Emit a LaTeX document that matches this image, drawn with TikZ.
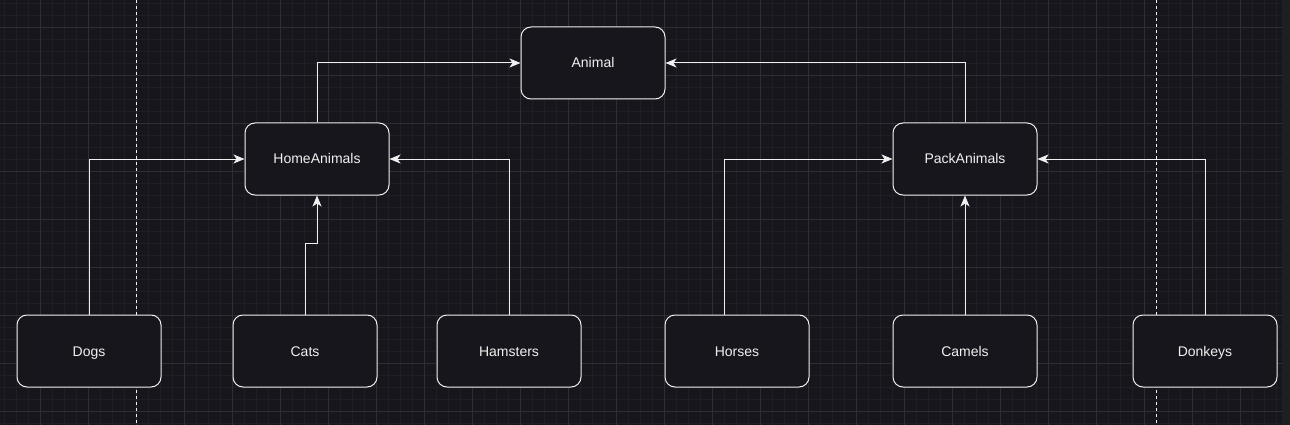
\documentclass[tikz,border=0pt]{standalone}
\usepackage{fontspec}
\setmainfont{Liberation Sans}
\usetikzlibrary{arrows.meta}
\definecolor{bg}{HTML}{18161D}
\definecolor{gminor}{HTML}{201E25}
\definecolor{gmajor}{HTML}{302E35}
\definecolor{strip}{HTML}{1F1F22}
\definecolor{fg}{HTML}{F0F0F0}
\tikzset{
  box/.style={draw=fg, line width=1pt, fill=bg, rounded corners=10pt,
    minimum width=144pt, minimum height=72pt, inner sep=0pt,
    text height=12pt, text depth=2pt,
    text=fg, font=\fontsize{14pt}{16pt}\selectfont},
  link/.style={draw=fg, line width=1pt, -{Stealth[length=11pt,width=9pt,inset=3pt]}},
  sep/.style={draw=fg!85, line width=0.8pt, dash pattern=on 3pt off 3pt}
}
\begin{document}
\begin{tikzpicture}[x=1pt,y=-1pt]
\useasboundingbox (0,0) rectangle (1290,425);
\fill[bg] (0,0) rectangle (1290,425);
% minor grid
\foreach \x in {4,16,...,1282} \draw[gminor, line width=0.8pt] (\x,0) -- (\x,425);
\foreach \y in {3,15,...,425} \draw[gminor, line width=0.8pt] (0,\y) -- (1282,\y);
% major grid
\foreach \x in {40,88,...,1282} \draw[gmajor, line width=0.8pt] (\x,0) -- (\x,425);
\foreach \y in {27,75,...,425} \draw[gmajor, line width=0.8pt] (0,\y) -- (1282,\y);
\fill[strip] (1282,0) rectangle (1290,425);
% separators
\draw[sep] (136,0) -- (136,425);
\draw[sep] (1156,0) -- (1156,425);
% nodes
\node[box] (animal) at (593,63) {Animal};
\node[box] (home) at (317,159) {HomeAnimals};
\node[box] (pack) at (965,159) {PackAnimals};
\node[box] (dogs) at (89,351) {Dogs};
\node[box] (cats) at (305,351) {Cats};
\node[box] (hamsters) at (509,351) {Hamsters};
\node[box] (horses) at (737,351) {Horses};
\node[box] (camels) at (965,351) {Camels};
\node[box] (donkeys) at (1205,351) {Donkeys};
% connectors
\draw[link] (home.north) |- (animal.west);
\draw[link] (pack.north) |- (animal.east);
\draw[link] (dogs.north) |- (home.west);
\draw[link] (hamsters.north) |- (home.east);
\coordinate (c1) at (305,243);
\coordinate (c2) at (317,243);
\draw[link] (cats.north) -- (c1) -- (c2) -- (home.south);
\draw[link] ([xshift=-13pt]horses.north) |- (pack.west);
\draw[link] (camels.north) -- (pack.south);
\draw[link] (donkeys.north) |- (pack.east);
\end{tikzpicture}
\end{document}
